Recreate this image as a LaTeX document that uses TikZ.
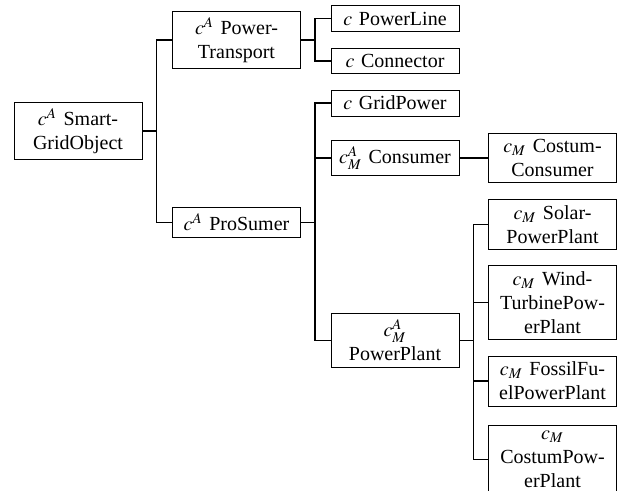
\documentclass[tikz,border=0pt]{standalone}
\usepackage{mathptmx}
\usepackage{fontspec}
\setmainfont{Liberation Serif}
\usepackage{tikz}

\begin{document}
\begin{tikzpicture}[
    x=0.5pt, y=-0.5pt,
    cls/.style={rectangle, draw, line width=0.4pt, inner sep=3pt, text width=58pt, align=center, font=\normalsize},
    edge/.style={line width=0.8pt}
]
\useasboundingbox (0,0) rectangle (618,491);

\node[cls] (smart) at (78,131) {$c^A$ Smart-\\GridObject};
\node[cls] (transport) at (236.5,40) {$c^A$ Power-\\Transport};
\node[cls] (prosumer) at (236.5,222.5) {$c^A$ ProSumer};
\node[cls] (powerline) at (395,18.5) {$c$ PowerLine};
\node[cls] (connector) at (395,61) {$c$ Connector};
\node[cls] (gridpower) at (395,103) {$c$ GridPower};
\node[cls] (consumer) at (395,158) {$c_M^A$ Consumer};
\node[cls] (powerplant) at (395,340.5) {$c_M^A$\\PowerPlant};
\node[cls] (costumconsumer) at (552.5,158) {$c_M$ Costum-\\Consumer};
\node[cls] (solar) at (552.5,224.5) {$c_M$ Solar-\\PowerPlant};
\node[cls] (wind) at (552.5,302.5) {$c_M$ Wind-\\TurbinePow-\\erPlant};
\node[cls] (fossil) at (552.5,381) {$c_M$ FossilFu-\\elPowerPlant};
\node[cls] (costumpp) at (552.5,459.5) {$c_M$\\CostumPow-\\erPlant};

\draw[edge] (smart.east) -- ++(14,0) coordinate (j1) |- (transport.west);
\draw[edge] (j1) |- (prosumer.west);
\draw[edge] (transport.east) -- ++(14,0) coordinate (j2) |- (powerline.west);
\draw[edge] (j2) |- (connector.west);
\draw[edge] (prosumer.east) -- ++(14,0) coordinate (j3) |- (gridpower.west);
\draw[edge] (j3) |- (consumer.west);
\draw[edge] (j3) |- (powerplant.west);
\draw[edge] (consumer) -- (costumconsumer);
\draw[edge] (powerplant.east) -- ++(14,0) coordinate (j4) |- (solar.west);
\draw[edge] (j4) |- (wind.west);
\draw[edge] (j4) |- (fossil.west);
\draw[edge] (j4) |- (costumpp.west);

\end{tikzpicture}
\end{document}
